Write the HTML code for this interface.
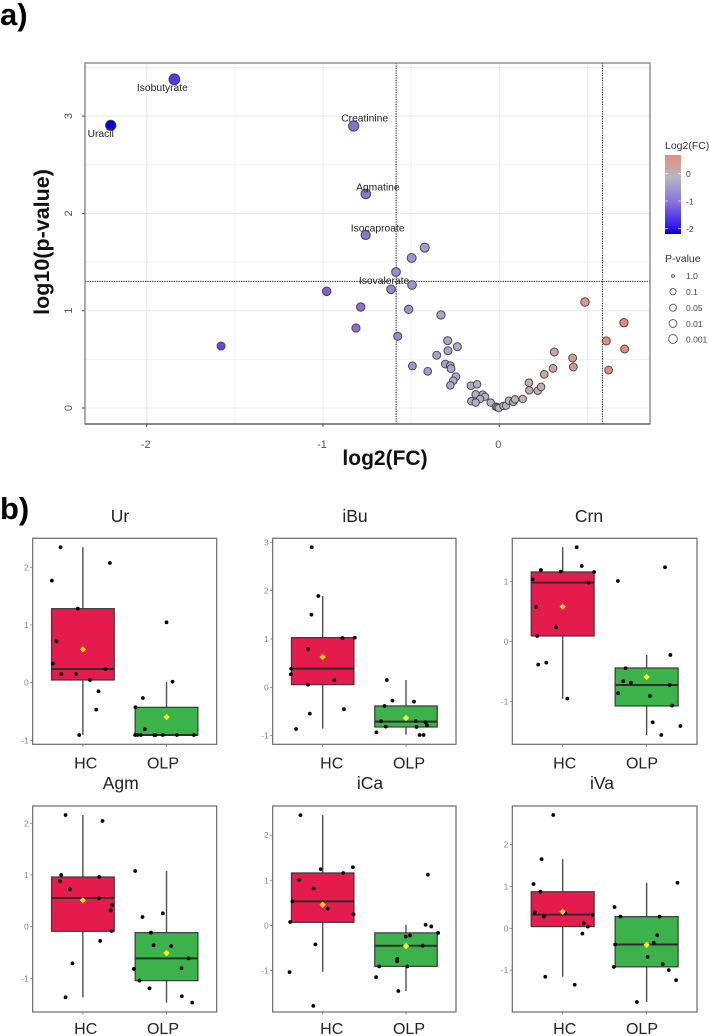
<!DOCTYPE html>
<html lang="en">
<head>
<meta charset="utf-8">
<title>Volcano plot and box plots</title>
<style>
html,body{margin:0;padding:0;background:#fff;width:709px;height:1036px;overflow:hidden}
svg{display:block;filter:blur(0.35px)}
text{font-family:"Liberation Sans",sans-serif}
</style>
</head>
<body>
<svg id="figure" xmlns="http://www.w3.org/2000/svg" width="709" height="1036" viewBox="0 0 709 1036">
  <defs>
    <linearGradient id="fcGradient" x1="0" y1="1" x2="0" y2="0">
      <stop offset="0" stop-color="#0000e0"/>
      <stop offset="0.12" stop-color="#3a20f0"/>
      <stop offset="0.4" stop-color="#8a70dc"/>
      <stop offset="0.72" stop-color="#b7b5be"/>
      <stop offset="1" stop-color="#e58f7a"/>
    </linearGradient>
  </defs>
  <rect x="0" y="0" width="709" height="1036" fill="#fff"/>
  <text x="0" y="25" font-size="31" font-weight="bold" fill="#000">a)</text>
  <text x="0" y="519" font-size="31" font-weight="bold" fill="#000">b)</text>
  <g id="volcano"></g>
  <text x="385" y="465" font-size="21" font-weight="bold" text-anchor="middle" fill="#111">log2(FC)</text>
  <text transform="translate(49,242) rotate(-90)" font-size="21.5" font-weight="bold" text-anchor="middle" fill="#111">log10(p-value)</text>
  <g>
    <text x="665" y="149" font-size="10.5" fill="#333">Log2(FC)</text>
    <rect x="665" y="155" width="16" height="79" fill="url(#fcGradient)"/>
    <path d="M665 173.7h3M678 173.7h3M665 201h3M678 201h3M665 228.7h3M678 228.7h3" stroke="#fff" stroke-width="0.8" opacity="0.8"/>
    <text x="686" y="177" font-size="8.5" fill="#444">0</text>
    <text x="686" y="204.5" font-size="8.5" fill="#444">-1</text>
    <text x="686" y="232" font-size="8.5" fill="#444">-2</text>
  </g>
  <g>
    <text x="665" y="262" font-size="10.5" fill="#333">P-value</text>
    <circle cx="673" cy="276" r="1.5" fill="#ccc" stroke="#555" stroke-width="0.8"/>
    <circle cx="673" cy="291.7" r="3.1" fill="#fff" stroke="#555" stroke-width="0.9"/>
    <circle cx="673" cy="307.7" r="3.5" fill="#fff" stroke="#555" stroke-width="0.9"/>
    <circle cx="673" cy="323.5" r="3.9" fill="#fff" stroke="#555" stroke-width="0.9"/>
    <circle cx="673" cy="339" r="4.4" fill="#fff" stroke="#555" stroke-width="0.9"/>
    <text x="686" y="279" font-size="8.5" fill="#444">1.0</text>
    <text x="686" y="295" font-size="8.5" fill="#444">0.1</text>
    <text x="686" y="311" font-size="8.5" fill="#444">0.05</text>
    <text x="686" y="327" font-size="8.5" fill="#444">0.01</text>
    <text x="686" y="342.5" font-size="8.5" fill="#444">0.001</text>
  </g>
  <g id="boxplots"></g>
</svg>
<script>
// Volcano data
const fcValues = [-2.204,-1.843,-0.826,-0.757,-0.758,-0.614,-1.578,-0.423,-0.497,-0.586,-0.495,-0.979,-0.786,-0.514,-0.331,-0.813,-0.576,-0.293,-0.238,-0.291,-0.355,-0.493,-0.406,-0.306,-0.278,-0.274,-0.246,-0.261,-0.278,-0.161,-0.126,-0.134,-0.094,-0.081,-0.109,-0.159,-0.134,-0.049,-0.019,-0.011,-0.003,0.023,0.038,0.055,0.079,0.089,0.133,0.168,0.170,0.218,0.237,0.255,0.305,0.312,0.416,0.420,0.486,0.607,0.707,0.711,0.620];
const logPValues = [2.905,3.378,2.898,2.200,1.778,1.220,0.637,1.648,1.542,1.398,1.264,1.199,1.038,1.014,0.956,0.822,0.737,0.692,0.630,0.589,0.542,0.432,0.377,0.452,0.435,0.404,0.322,0.281,0.233,0.229,0.243,0.141,0.137,0.116,0.092,0.069,0.055,0.055,0.013,0.007,0.000,0.021,0.024,0.075,0.062,0.089,0.092,0.260,0.182,0.178,0.216,0.346,0.408,0.576,0.514,0.421,1.089,0.689,0.877,0.606,0.390];
const metaboliteLabels = ['Uracil','Isobutyrate','Creatinine','Agmatine','Isocaproate','Isovalerate'];
const volcanoXTicks = [-2,-1,0];
const volcanoYTicks = [0,1,2,3];
const volcanoXMinor = [-1.5,-0.5,0.5];
const volcanoYMinor = [0.5,1.5,2.5,3.5];
const fcThresholds = [-0.585,0.585];
const pThreshold = [1.301];

// Box plot data: box = [lower whisker, Q1, median, Q3, upper whisker]; points = [jitter, value]
const categories = ['HC','OLP'];

const urHcBox = [-0.908,0.046,0.237,1.283,2.347];
const urHcMean = 0.578;
const urHcPoints = [[-.267,2.347],[-.371,1.769],[.323,2.075],[-.06,1.283],[-.315,.717],[-.359,.329],[-.259,.15],[-.08,.15],[.271,.237],[.084,.046],[.187,-.15],[.159,-.468],[-.044,-.908]];
const urOlpBox = [-0.908,-0.908,-0.908,-0.428,0.012];
const urOlpMean = -0.595;
const urOlpPoints = [[0,1.046],[.072,.017],[-.283,-.266],[-.371,-.428],[-.259,-.809],[-.375,-.908],[-.347,-.908],[-.307,-.908],[-.147,-.908],[-.131,-.908],[-.044,-.908],[.124,-.908],[.327,-.908]];

const ibuHcBox = [-0.855,0.055,0.386,1.028,1.890];
const ibuHcMean = 0.628;
const ibuHcPoints = [[-.131,2.897],[-.052,1.89],[-.135,1.503],[.239,1.021],[.386,1.028],[-.175,.793],[-.378,.386],[-.382,.269],[-.175,.055],[.139,.145],[.255,-.455],[-.155,-.545],[-.319,-.862]];
const ibuOlpBox = [-0.979,-0.821,-0.710,-0.386,0.152];
const ibuOlpMean = -0.634;
const ibuOlpPoints = [[-.231,.152],[-.163,-.276],[.096,-.297],[-.259,-.386],[-.299,-.703],[.116,-.697],[.235,-.724],[.251,-.786],[-.243,-.814],[.127,-.821],[-.355,-.931],[.163,-.986],[.211,-.986]];

const crnHcBox = [-0.950,0.094,0.983,1.161,1.572];
const crnHcMean = 0.583;
const crnHcPoints = [[.167,1.572],[.227,1.261],[-.259,1.194],[-.024,1.167],[.375,1.161],[-.359,1.039],[.307,.983],[-.315,.578],[-.08,.239],[-.303,.094],[-.195,-.35],[-.291,-.383],[.056,-.95]];
const crnOlpBox = [-1.556,-1.072,-0.722,-0.439,-0.222];
const crnOlpMean = -0.589;
const crnOlpPoints = [[.219,1.239],[-.343,1.011],[.283,-.222],[-.251,-.444],[-.279,-.661],[-.187,-.683],[.275,-.722],[-.339,-.861],[.04,-.906],[.303,-1.067],[.072,-1.344],[.402,-1.406],[.175,-1.556]];

const agmHcBox = [-1.368,-0.090,0.555,0.961,2.161];
const agmHcMean = 0.51;
const agmHcPoints = [[-.207,2.161],[.235,2.045],[-.259,1],[.195,.961],[-.275,.884],[-.155,.723],[.191,.548],[.347,.419],[.331,.316],[.343,-.084],[.207,-.277],[-.124,-.71],[-.207,-1.368]];
const agmOlpBox = [-1.471,-1.045,-0.613,-0.116,1.077];
const agmOlpMean = -0.51;
const agmOlpPoints = [[-.375,1.077],[-.044,.258],[-.287,.187],[-.187,-.116],[-.155,-.361],[.056,-.374],[.263,-.613],[-.39,-.819],[.179,-.806],[-.323,-1.045],[-.203,-1.194],[.183,-1.348],[.307,-1.471]];

const icaHcBox = [-1.028,0.068,0.533,1.163,2.446];
const icaHcMean = 0.458;
const icaHcPoints = [[-.267,2.446],[.362,1.29],[-.024,1.245],[.247,1.163],[-.283,1.013],[-.108,.818],[-.363,.533],[.06,.375],[.371,.248],[-.391,.075],[-.088,-.42],[-.398,-1.035],[-.112,-1.785]];
const icaOlpBox = [-1.455,-0.908,-0.450,-0.165,0.008];
const icaOlpMean = -0.458;
const icaOlpPoints = [[.263,1.125],[.235,.015],[.303,-.023],[.386,-.165],[.048,-.225],[-.004,-.248],[.199,-.45],[-.104,-.743],[-.108,-.795],[-.323,-.908],[.016,-.908],[-.359,-1.148],[-.092,-1.455]];

const ivaHcBox = [-1.159,0.040,0.325,0.873,1.651];
const ivaHcMean = 0.397;
const ivaHcPoints = [[-.112,2.706],[-.251,1.651],[-.347,1.056],[-.263,.873],[-.331,.381],[.032,.365],[-.223,.278],[.359,.325],[.251,.119],[.299,.04],[.235,-.127],[-.207,-1.159],[.143,-1.349]];
const ivaOlpBox = [-1.762,-0.921,-0.389,0.278,1.087];
const ivaOlpMean = -0.397;
const ivaOlpPoints = [[.367,1.087],[-.382,.508],[-.311,.278],[.155,.278],[.127,-.167],[.084,-.349],[-.375,-.389],[.012,-.683],[.191,-.857],[-.39,-.921],[.263,-1],[.351,-1.238],[-.116,-1.762]];

const urTicks = [-1,0,1,2];
const ibuTicks = [-1,0,1,2,3];
const crnTicks = [-1,0,1];
const agmTicks = [-1,0,1,2];
const icaTicks = [-1,0,1,2];
const ivaTicks = [-1,0,1,2];

const urDomain = [-1.069,2.503];
const ibuDomain = [-1.179,3.083];
const crnDomain = [-1.711,1.722];
const agmDomain = [-1.652,2.335];
const icaDomain = [-1.92,2.648];
const ivaDomain = [-2.0,2.921];

const SVG_NS = 'http://www.w3.org/2000/svg';
function make(parent, tag, attrs, content) {
  const el = document.createElementNS(SVG_NS, tag);
  for (const k in attrs) el.setAttribute(k, attrs[k]);
  if (content !== undefined) el.textContent = content;
  parent.appendChild(el);
  return el;
}

// Volcano axes
const vPlot = {left:85, right:650, top:63, bottom:424};
function vx(v){ return 499.3 + v * 176.3; }
function vy(v){ return 408 - v * 97.3; }

const colorStops = [[-2.2,[0,0,224]],[-1.84,[88,56,238]],[-1.58,[104,70,224]],[-1,[126,96,208]],[-0.8,[140,112,208]],[-0.5,[160,146,208]],[-0.3,[172,166,200]],[0,[184,184,186]],[0.3,[204,168,156]],[0.5,[222,150,130]],[0.72,[228,140,118]]];
function fcColor(v){
  if (v <= colorStops[0][0]) return 'rgb(' + colorStops[0][1].join(',') + ')';
  for (let i = 1; i < colorStops.length; i++) {
    if (v <= colorStops[i][0]) {
      const a = colorStops[i-1], b = colorStops[i], t = (v-a[0])/(b[0]-a[0]);
      return 'rgb(' + a[1].map((c,j)=>Math.round(c+(b[1][j]-c)*t)).join(',') + ')';
    }
  }
  return 'rgb(' + colorStops[colorStops.length-1][1].join(',') + ')';
}
function pRadius(v){ return 3.7 + 0.5 * v; }

const volcano = document.getElementById('volcano');
volcanoXMinor.forEach(function(v){
  const el = make(volcano,'line',{x1:vx(v),x2:vx(v),y1:vPlot.top,y2:vPlot.bottom,stroke:'#f1f1f1','stroke-width':1});
  
  
});
volcanoYMinor.forEach(function(v){
  const el = make(volcano,'line',{x1:vPlot.left,x2:vPlot.right,y1:vy(v),y2:vy(v),stroke:'#f1f1f1','stroke-width':1});
  
  
});
volcanoXTicks.forEach(function(v){
  const g = make(volcano,'line',{x1:vx(v),x2:vx(v),y1:vPlot.top,y2:vPlot.bottom,stroke:'#ebebeb','stroke-width':1.1});
  
  
  const t = make(volcano,'line',{x1:vx(v),x2:vx(v),y1:vPlot.bottom,y2:vPlot.bottom+3,stroke:'#444','stroke-width':1});
  
  
  const l = make(volcano,'text',{x:vx(v)-1,y:448,'font-size':11,'text-anchor':'middle',fill:'#555'},String(v));
  
  
});
volcanoYTicks.forEach(function(v){
  const g = make(volcano,'line',{x1:vPlot.left,x2:vPlot.right,y1:vy(v),y2:vy(v),stroke:'#ebebeb','stroke-width':1.1});
  
  
  const t = make(volcano,'line',{x1:vPlot.left-3,x2:vPlot.left,y1:vy(v),y2:vy(v),stroke:'#444','stroke-width':1});
  
  
  const l = make(volcano,'text',{transform:'translate(72,'+vy(v)+') rotate(-90)','font-size':11,'text-anchor':'middle',fill:'#555'},String(v));
  
  
});
fcThresholds.forEach(function(v){
  const el = make(volcano,'line',{x1:vx(v),x2:vx(v),y1:vPlot.top,y2:vPlot.bottom,stroke:'#333','stroke-width':1.1,'stroke-dasharray':'1.3 1.1'});
  
  
});
pThreshold.forEach(function(v){
  const el = make(volcano,'line',{x1:vPlot.left,x2:vPlot.right,y1:vy(v),y2:vy(v),stroke:'#333','stroke-width':1.1,'stroke-dasharray':'1.3 1.1'});
  
  
});
fcValues.forEach(function(v,i){
  const el = make(volcano,'circle',{cx:vx(v),cy:vy(logPValues[i]),r:pRadius(logPValues[i]),fill:fcColor(v),stroke:'#33333f','stroke-width':1,'stroke-opacity':0.85});
  
  
});
const labelNudge = [[-10,8],[-12,8],[11,-8],[12,-7],[12,-7],[-7,-9]];
const labelTargets = [0,1,2,3,4,5];
metaboliteLabels.forEach(function(name,i){
  const p = labelTargets[i];
  const n = labelNudge[i];
  const el = make(volcano,'text',{x:vx(fcValues[p])+n[0],y:vy(logPValues[p])+n[1]+3.5,'font-size':10.3,'text-anchor':'middle',fill:'#222'},name);
  
  
});
const vFrame = make(volcano,'rect',{x:vPlot.left,y:vPlot.top,width:vPlot.right-vPlot.left,height:vPlot.bottom-vPlot.top,fill:'none',stroke:'#808080','stroke-width':1.3});


// Bottom axis in the reference is darker than the rest of the frame
const vAxis = make(volcano,'line',{x1:vPlot.left,x2:vPlot.right,y1:vPlot.bottom,y2:vPlot.bottom,stroke:'#555','stroke-width':1.2});



// Box plots
const panels = [
  {title:'Ur', key:'ur', left:32.7, right:216.7, top:538.3, bottom:744.3, titleX:120, titleY:522, labelY:768.7, labelX:[85.7,163], domain:urDomain, ticks:urTicks, boxes:[urHcBox,urOlpBox], means:[urHcMean,urOlpMean], points:[urHcPoints,urOlpPoints]},
  {title:'iBu', key:'ibu', left:272.7, right:456, top:538.3, bottom:744.3, titleX:355, titleY:522, labelY:768.7, labelX:[331.7,409], domain:ibuDomain, ticks:ibuTicks, boxes:[ibuHcBox,ibuOlpBox], means:[ibuHcMean,ibuOlpMean], points:[ibuHcPoints,ibuOlpPoints]},
  {title:'Crn', key:'crn', left:512.3, right:697, top:538.3, bottom:744.3, titleX:589, titleY:522, labelY:768.7, labelX:[564.7,642], domain:crnDomain, ticks:crnTicks, boxes:[crnHcBox,crnOlpBox], means:[crnHcMean,crnOlpMean], points:[crnHcPoints,crnOlpPoints]},
  {title:'Agm', key:'agm', left:32.7, right:216.7, top:806, bottom:1012, titleX:120.7, titleY:789, labelY:1034, labelX:[85.7,163], domain:agmDomain, ticks:agmTicks, boxes:[agmHcBox,agmOlpBox], means:[agmHcMean,agmOlpMean], points:[agmHcPoints,agmOlpPoints]},
  {title:'iCa', key:'ica', left:272.7, right:456, top:806, bottom:1012, titleX:370, titleY:789, labelY:1034, labelX:[331.7,409], domain:icaDomain, ticks:icaTicks, boxes:[icaHcBox,icaOlpBox], means:[icaHcMean,icaOlpMean], points:[icaHcPoints,icaOlpPoints]},
  {title:'iVa', key:'iva', left:512.3, right:697, top:806, bottom:1012, titleX:602, titleY:789, labelY:1034, labelX:[564.7,642], domain:ivaDomain, ticks:ivaTicks, boxes:[ivaHcBox,ivaOlpBox], means:[ivaHcMean,ivaOlpMean], points:[ivaHcPoints,ivaOlpPoints]}
];
const boxFills = ['#e41b4c','#3bb34a'];
const meanFills = ['#ffd21f','#f6ff1e'];
const boxRoot = document.getElementById('boxplots');

panels.forEach(function(p){
  const g = make(boxRoot,'g',{});
  
  
  const W = p.right - p.left, H = p.bottom - p.top;
  const X = function(c){ return p.left + (c - 0.4) / 2.2 * W; };
  const Y = function(v){ return p.bottom - (v - p.domain[0]) / (p.domain[1] - p.domain[0]) * H; };

  const title = make(g,'text',{x:p.titleX,y:p.titleY,'font-size':17.5,'text-anchor':'middle',fill:'#222'},p.title);
  
  

  p.ticks.forEach(function(v){
    const t = make(g,'line',{x1:p.left-2.5,x2:p.left,y1:Y(v),y2:Y(v),stroke:'#777','stroke-width':0.8});
    
    
    const l = make(g,'text',{x:p.left-4,y:Y(v)+3,'font-size':8.5,'text-anchor':'end',fill:'#888'},String(v));
    
    
  });

  categories.forEach(function(cat,i){
    const c = i + 1, cx = X(c), b = p.boxes[i];
    const tick = make(g,'line',{x1:cx,x2:cx,y1:p.bottom,y2:p.bottom+2.5,stroke:'#777','stroke-width':0.8});
    
    
    const lab = make(g,'text',{x:p.labelX[i],y:p.labelY,'font-size':16,'text-anchor':'middle',fill:'#222'},cat);
    
    

    const whisker = make(g,'line',{x1:cx,x2:cx,y1:Y(b[0]),y2:Y(b[4]),stroke:'#4d4d4d','stroke-width':1.4});
    
    
    const half = 0.375 * W / 2.2;
    const box = make(g,'rect',{x:cx-half,y:Y(b[3]),width:half*2,height:Y(b[1])-Y(b[3]),fill:boxFills[i],stroke:'#3a3a3a','stroke-width':1.2});
    
    
    const med = make(g,'line',{x1:cx-half,x2:cx+half,y1:Y(b[2]),y2:Y(b[2]),stroke:'#2e2e2e','stroke-width':2});
    
    

    p.points[i].forEach(function(pt){
      const dot = make(g,'circle',{cx:X(c+pt[0]),cy:Y(pt[1]),r:1.9,fill:'#000'});
      
      
    });

    const my = Y(p.means[i]), s = 3.2;
    const mean = make(g,'polygon',{points:[cx,my-s,cx+s,my,cx,my+s,cx-s,my].join(' '),fill:meanFills[i]});
    
    
  });

  const frame = make(g,'rect',{x:p.left,y:p.top,width:W,height:H,fill:'none',stroke:'#6a6a6a','stroke-width':1.2});
  
  
});
</script>
</body>
</html>
